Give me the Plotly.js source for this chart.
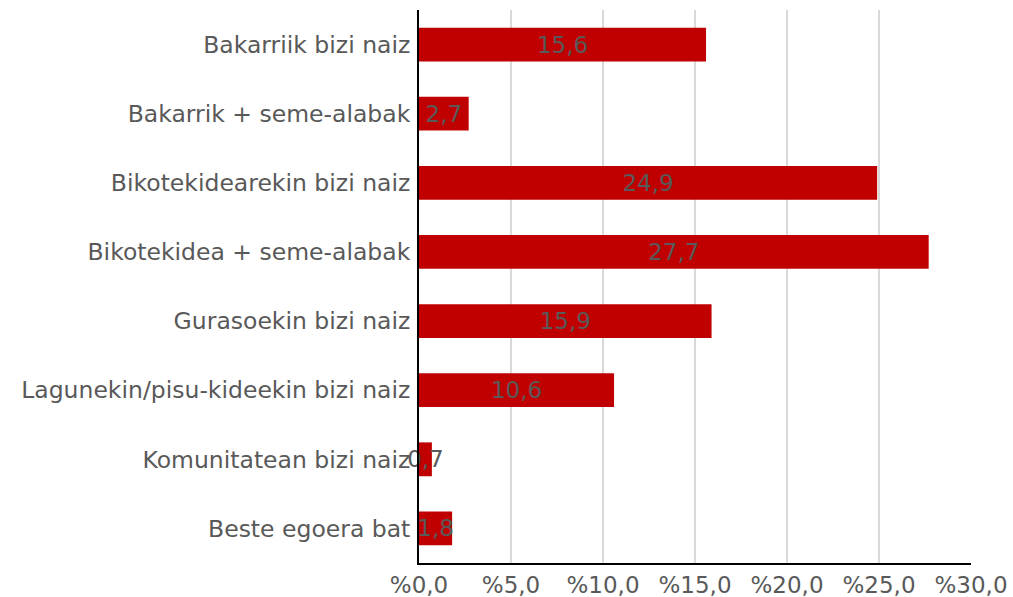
<!DOCTYPE html>
<html>
<head>
<meta charset="utf-8">
<script src="https://cdn.plot.ly/plotly-3.0.1.min.js"></script>
<style>html,body{margin:0;padding:0;background:#fff;}#chart{width:1013px;height:597px;}</style>
</head>
<body>
<div id="chart"></div>
<script>
const categories = [
  "Bakarriik bizi naiz",
  "Bakarrik + seme-alabak",
  "Bikotekidearekin bizi naiz",
  "Bikotekidea + seme-alabak",
  "Gurasoekin bizi naiz",
  "Lagunekin/pisu-kideekin bizi naiz",
  "Komunitatean bizi naiz",
  "Beste egoera bat"
];
const values = [15.6, 2.7, 24.9, 27.7, 15.9, 10.6, 0.7, 1.8];
const valueLabels = ["15,6", "2,7", "24,9", "27,7", "15,9", "10,6", "0,7", "1,8"];
const tickValues = [0, 5, 10, 15, 20, 25, 30];
const tickLabels = ["%0,0", "%5,0", "%10,0", "%15,0", "%20,0", "%25,0", "%30,0"];

const trace = {
  type: "bar",
  orientation: "h",
  x: values,
  y: categories,
  text: valueLabels,
  textposition: "inside",
  insidetextanchor: "middle",
  textangle: 0,
  constraintext: "none",
  textfont: {family: "DejaVu Sans", size: 23, color: "#595959"},
  marker: {color: "#c00000"},
  width: 0.49,
  hoverinfo: "none",
  cliponaxis: false
};

const layout = {
  width: 1013,
  height: 597,
  margin: {l: 419, r: 42, t: 10, b: 34},
  paper_bgcolor: "#ffffff",
  plot_bgcolor: "#ffffff",
  font: {family: "DejaVu Sans", size: 23, color: "#595959"},
  showlegend: false,
  xaxis: {
    range: [0, 30],
    tickvals: tickValues,
    ticktext: tickLabels,
    showgrid: true,
    gridcolor: "#d9d9d9",
    gridwidth: 2,
    zeroline: false,
    showline: true,
    linecolor: "#000000",
    linewidth: 2,
    ticks: "",
    tickfont: {family: "DejaVu Sans", size: 23, color: "#595959"},
    fixedrange: true
  },
  yaxis: {
    categoryorder: "array",
    categoryarray: categories,
    autorange: "reversed",
    showgrid: false,
    zeroline: false,
    showline: true,
    linecolor: "#000000",
    linewidth: 2,
    ticks: "",
    ticklabelstandoff: 2,
    tickfont: {family: "DejaVu Sans", size: 23.5, color: "#595959"},
    fixedrange: true
  }
};

Plotly.newPlot("chart", [trace], layout, {displayModeBar: false, staticPlot: true});
</script>
</body>
</html>
